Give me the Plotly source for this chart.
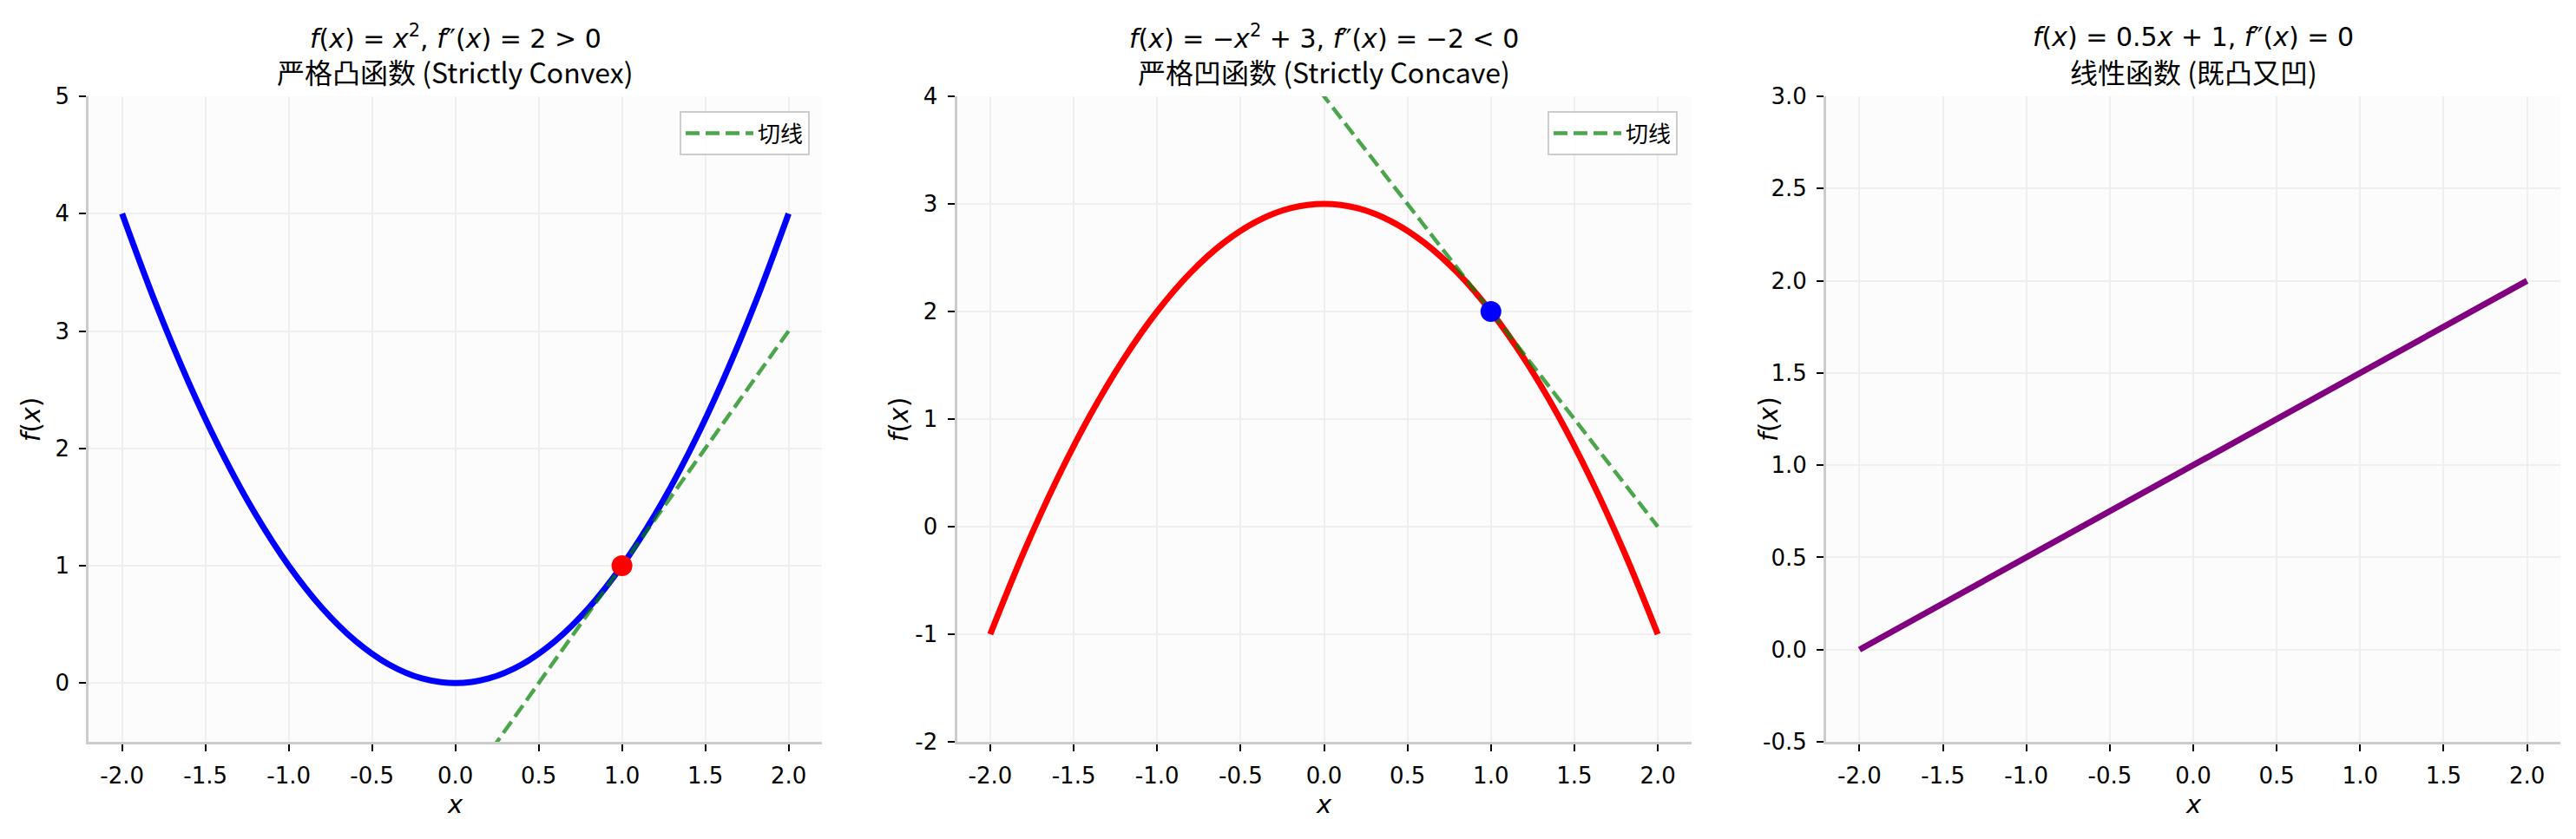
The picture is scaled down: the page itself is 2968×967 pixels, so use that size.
import plotly.graph_objects as go

# ---------------- data ----------------
x_curve = [-2.0, -1.8, -1.6, -1.4, -1.2, -1.0, -0.8, -0.6, -0.4, -0.2, 0.0,
           0.2, 0.4, 0.6, 0.8, 1.0, 1.2, 1.4, 1.6, 1.8, 2.0]
y_convex = [4.0, 3.24, 2.56, 1.96, 1.44, 1.0, 0.64, 0.36, 0.16, 0.04, 0.0,
            0.04, 0.16, 0.36, 0.64, 1.0, 1.44, 1.96, 2.56, 3.24, 4.0]
y_concave = [-1.0, -0.24, 0.44, 1.04, 1.56, 2.0, 2.36, 2.64, 2.84, 2.96, 3.0,
             2.96, 2.84, 2.64, 2.36, 2.0, 1.56, 1.04, 0.44, -0.24, -1.0]
x_line = [-2.0, 2.0]
y_linear = [0.0, 2.0]
tangent1_y = [-5.0, 3.0]
tangent2_y = [8.0, 0.0]
point1 = ([1.0], [1.0])
point2 = ([1.0], [2.0])

x_tickvals = [-2.0, -1.5, -1.0, -0.5, 0.0, 0.5, 1.0, 1.5, 2.0]
x_ticktext = ["-2.0", "-1.5", "-1.0", "-0.5", "0.0", "0.5", "1.0", "1.5", "2.0"]
y1_tickvals = [0, 1, 2, 3, 4, 5]
y1_ticktext = ["0", "1", "2", "3", "4", "5"]
y2_tickvals = [-2, -1, 0, 1, 2, 3, 4]
y2_ticktext = ["-2", "-1", "0", "1", "2", "3", "4"]
y3_tickvals = [-0.5, 0.0, 0.5, 1.0, 1.5, 2.0, 2.5, 3.0]
y3_ticktext = ["-0.5", "0.0", "0.5", "1.0", "1.5", "2.0", "2.5", "3.0"]

titles_math = [
    "<i>f</i>(<i>x</i>) = <i>x</i><sup>2</sup>, <i>f</i>″(<i>x</i>) = 2 &gt; 0",
    "<i>f</i>(<i>x</i>) = −<i>x</i><sup>2</sup> + 3, <i>f</i>″(<i>x</i>) = −2 &lt; 0",
    "<i>f</i>(<i>x</i>) = 0.5<i>x</i> + 1, <i>f</i>″(<i>x</i>) = 0",
]
titles_cn = ["严格凸函数 (Strictly Convex)", "严格凹函数 (Strictly Concave)", "线性函数 (既凸又凹)"]
legend_name = "切线"

# ---------------- layout constants ----------------
W, H = 2968, 967
CJK = "Noto Sans CJK SC, sans-serif"
DV = "DejaVu Sans, Noto Sans CJK SC, sans-serif"
x_domains = [[102.3 / W, 947 / W], [1102.5 / W, 1948.5 / W], [2104 / W, 2950 / W]]
y_domain = [1 - 855 / H, 1 - 111 / H]

fig = go.Figure()

# panel 1
fig.add_trace(go.Scatter(x=x_curve, y=y_convex, mode="lines", line=dict(color="#0000ff", width=7, shape="spline"),
                         showlegend=False, xaxis="x", yaxis="y"))
fig.add_trace(go.Scatter(x=x_line, y=tangent1_y, mode="lines", name=legend_name,
                         line=dict(color="rgba(0,128,0,0.7)", width=4.5, dash="16px,7px"),
                         xaxis="x", yaxis="y", legend="legend"))
fig.add_trace(go.Scatter(x=point1[0], y=point1[1], mode="markers", marker=dict(color="#ff0000", size=24),
                         showlegend=False, xaxis="x", yaxis="y"))
# panel 2
fig.add_trace(go.Scatter(x=x_curve, y=y_concave, mode="lines", line=dict(color="#ff0000", width=7, shape="spline"),
                         showlegend=False, xaxis="x2", yaxis="y2"))
fig.add_trace(go.Scatter(x=x_line, y=tangent2_y, mode="lines", name=legend_name,
                         line=dict(color="rgba(0,128,0,0.7)", width=4.5, dash="16px,7px"),
                         xaxis="x2", yaxis="y2", legend="legend2"))
fig.add_trace(go.Scatter(x=point2[0], y=point2[1], mode="markers", marker=dict(color="#0000ff", size=24),
                         showlegend=False, xaxis="x2", yaxis="y2"))
# panel 3
fig.add_trace(go.Scatter(x=x_line, y=y_linear, mode="lines", line=dict(color="#800080", width=7),
                         showlegend=False, xaxis="x3", yaxis="y3"))

axis_common = dict(
    showline=True, linecolor="#cccccc", linewidth=3, mirror=False,
    ticks="outside", ticklen=8, tickwidth=2, tickcolor="#000000",
    showgrid=True, gridcolor="#efefef", gridwidth=1.5, zeroline=False,
    automargin=False,
    tickfont=dict(family="DejaVu Sans", size=26, color="#000000"),
)

yinfo = [([-0.5, 5], y1_tickvals, y1_ticktext), ([-2, 4], y2_tickvals, y2_ticktext),
         ([-0.5, 3.0], y3_tickvals, y3_ticktext)]
layout = dict(
    width=W, height=H, margin=dict(l=0, r=0, t=0, b=0, autoexpand=False),
    paper_bgcolor="white", plot_bgcolor="#fcfcfc",
    font=dict(family=DV, color="#000000"),
)
for i in range(3):
    sx = "" if i == 0 else str(i + 1)
    layout["xaxis" + sx] = dict(axis_common, domain=x_domains[i], range=[-2.2, 2.2], anchor="y" + sx,
                                tickvals=x_tickvals, ticktext=x_ticktext, ticklabelstandoff=6)
    layout["yaxis" + sx] = dict(axis_common, domain=y_domain, range=yinfo[i][0], anchor="x" + sx,
                                tickvals=yinfo[i][1], ticktext=yinfo[i][2], ticklabelstandoff=6)

leg_common = dict(y=1 - 128 / H, xanchor="right", yanchor="top",
                  bgcolor="rgba(255,255,255,0.85)", bordercolor="#cccccc", borderwidth=2,
                  itemwidth=78, font=dict(family=CJK, size=26, color="#000000"))
layout["legend"] = dict(leg_common, x=933 / W)
layout["legend2"] = dict(leg_common, x=1933 / W)
fig.update_layout(**layout)

ann = []
for i in range(3):
    sx = "" if i == 0 else str(i + 1)
    ann.append(dict(text=titles_math[i], xref="x" + sx + " domain", yref="paper", x=0.5, y=1 - 42 / H,
                    xanchor="center", yanchor="middle", showarrow=False,
                    font=dict(family=DV, size=30, color="#000000")))
    ann.append(dict(text=titles_cn[i], xref="x" + sx + " domain", yref="paper", x=0.5, y=1 - 82 / H,
                    xanchor="center", yanchor="middle", showarrow=False,
                    font=dict(family=CJK, size=32, color="#000000")))
    ann.append(dict(text="<i>x</i>", xref="x" + sx + " domain", yref="paper", x=0.5, y=1 - 927 / H,
                    xanchor="center", yanchor="middle", showarrow=False,
                    font=dict(family="DejaVu Sans", size=29, color="#000000")))
    ann.append(dict(text="<i>f</i>(<i>x</i>)", xref="x" + sx + " domain", yref="paper",
                    x=-67 / 845, y=(y_domain[0] + y_domain[1]) / 2, textangle=-90,
                    xanchor="center", yanchor="middle", showarrow=False,
                    font=dict(family="DejaVu Sans", size=30, color="#000000")))
fig.update_layout(annotations=ann)

fig.write_html("out.html")
